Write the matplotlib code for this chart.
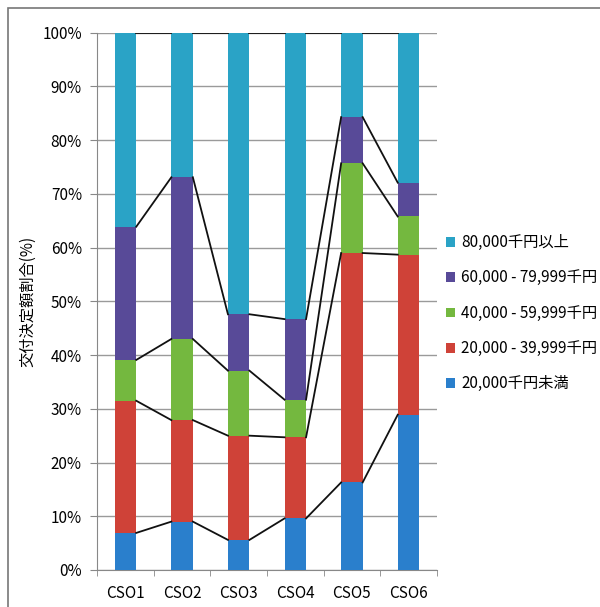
import numpy as np
import matplotlib
matplotlib.use("Agg")
import matplotlib.pyplot as plt
from matplotlib.patches import Rectangle

plt.rcParams['font.family'] = ['Noto Sans CJK JP', 'DejaVu Sans']

# data (percent)
categories = ["CSO1", "CSO2", "CSO3", "CSO4", "CSO5", "CSO6"]
under_20k = [6.9, 9.0, 5.6, 9.6, 16.3, 28.9]
r20k_39k = [24.6, 18.9, 19.4, 15.1, 42.7, 29.8]
r40k_59k = [7.6, 15.1, 12.1, 7.0, 16.7, 7.1]
r60k_79k = [24.8, 30.1, 10.5, 15.0, 8.6, 6.3]
over_80k = [36.1, 26.9, 52.4, 53.3, 15.7, 27.9]

series_names = ["20,000千円未満", "20,000 - 39,999千円", "40,000 - 59,999千円",
                "60,000 - 79,999千円", "80,000千円以上"]
colors = ["#2a7fcc", "#cf4238", "#74b83f", "#584a98", "#2aa3c6"]

series = [under_20k, r20k_39k, r40k_59k, r60k_79k, over_80k]

fig = plt.figure(figsize=(6.0, 6.07), dpi=100)
ax = fig.add_axes([0.162, 0.061, 0.566, 0.885])

x = np.arange(len(categories))
w = 0.38

# rescale so each bar sums to 100%
totals = np.sum(np.array(series), axis=0)
bottom = np.zeros(len(categories))
handles = []
levels = []
for vals, c, name in zip(series, colors, series_names):
    vals = np.array(vals) * 100.0 / totals
    h = ax.bar(x, vals, w, bottom=bottom, color=c, label=name, zorder=3)
    handles.append(h)
    bottom = bottom + vals
    levels.append(bottom.copy())

# series lines between bars
for lev in levels:
    for i in range(len(categories) - 1):
        ax.plot([x[i] + w / 2, x[i + 1] - w / 2], [lev[i], lev[i + 1]],
                color="#111111", lw=1.3, zorder=4)

ax.set_xlim(-0.5, len(categories) - 0.5)
ax.set_ylim(0, 100)
ax.set_yticks(np.arange(0, 101, 10))
ax.set_yticklabels([f"{v}%" for v in range(0, 101, 10)], fontsize=11)
ax.set_xticks(x)
ax.set_xticklabels(categories, fontsize=11)
ax.tick_params(axis='x', length=0, pad=11)
ax.tick_params(axis='y', length=5, color="#888888", direction='out', pad=6)
ax.set_xticks(np.arange(-0.5, len(categories) + 0.5, 1), minor=True)
ax.tick_params(axis='x', which='minor', length=4, color="#888888", direction='out')
ax.grid(axis='y', color="#9a9a9a", lw=1.0, zorder=0)
for s in ["top", "right"]:
    ax.spines[s].set_visible(False)
ax.spines["left"].set_color("#888888")
ax.spines["bottom"].set_color("#888888")
ax.set_ylabel("交付決定額割合(%)", fontsize=11)
ax.yaxis.set_label_coords(-0.18, 0.5)

fig.legend(handles[::-1], series_names[::-1], loc="upper left",
           bbox_to_anchor=(0.72, 0.637), frameon=False, fontsize=11,
           handlelength=0.6, handleheight=0.6, handletextpad=0.4,
           labelspacing=1.2)

# outer chart frame
fig.patches.append(Rectangle((8 / 600, -0.01), 1.0, 1 - 8 / 607 + 0.01,
                             transform=fig.transFigure, fill=False,
                             edgecolor="#777777", lw=1.2))

fig.savefig("out.png", dpi=100)
